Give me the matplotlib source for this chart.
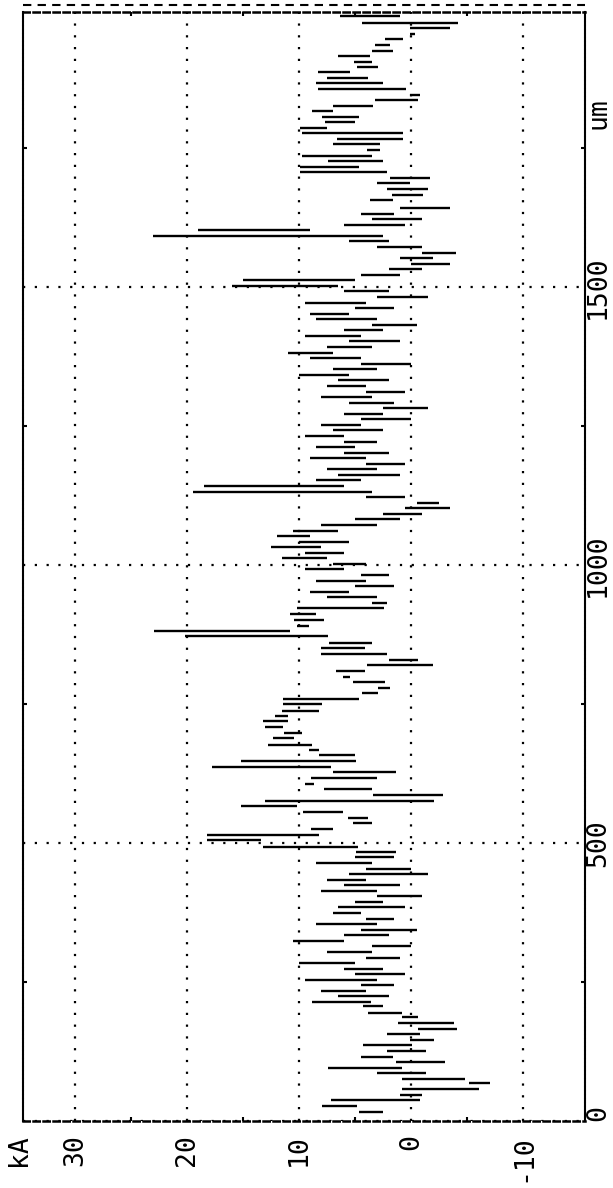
import numpy as np
import matplotlib
matplotlib.use("Agg")
import matplotlib.pyplot as plt
from matplotlib.transforms import blended_transform_factory
from matplotlib.lines import Line2D

W, H, DPI = 613, 1188, 100

# sample positions along the scan (um)
pos_um = [16, 27, 38, 47, 58, 68, 76, 86, 95, 106,
          115, 126, 137, 146, 156, 165, 176, 187, 194, 207,
          214, 224, 234, 244, 254, 264, 274, 284, 294, 304,
          314, 324, 334, 344, 354, 364, 374, 384, 394, 404,
          414, 424, 434, 444, 454, 464, 474, 484, 493, 505,
          514, 525, 536, 545, 556, 567, 576, 586, 597, 606,
          617, 628, 637, 647, 658, 667, 676, 689, 698, 709,
          719, 728, 737, 750, 759, 770, 779, 790, 799, 809,
          820, 829, 840, 851, 860, 872, 881, 890, 901, 912,
          923, 932, 942, 952, 962, 972, 982, 992, 1002, 1012,
          1022, 1032, 1042, 1052, 1062, 1072, 1082, 1092, 1102, 1112,
          1122, 1132, 1142, 1152, 1162, 1172, 1182, 1192, 1202, 1212,
          1222, 1232, 1242, 1252, 1262, 1272, 1282, 1292, 1302, 1312,
          1322, 1332, 1342, 1352, 1362, 1372, 1382, 1392, 1402, 1412,
          1422, 1432, 1442, 1452, 1462, 1472, 1482, 1492, 1502, 1512,
          1522, 1532, 1542, 1552, 1562, 1572, 1582, 1592, 1602, 1612,
          1622, 1632, 1642, 1656, 1665, 1676, 1687, 1696, 1707, 1716,
          1727, 1736, 1747, 1757, 1766, 1777, 1786, 1797, 1806, 1817,
          1826, 1836, 1845, 1856, 1867, 1876, 1887, 1896, 1905, 1916,
          1924, 1935, 1946, 1955, 1966, 1975, 1987]

# lower end of the current range at each position (kA)
lo_kA = [2.5, 4.8, -0.8, -1.0, -6.1, -7.1, -4.8, -1.3, 0.8, -3.0,
         1.6, -1.3, -0.1, -2.1, -0.8, -4.1, -3.8, -0.6, 0.8, 2.5,
         3.6, 2.0, 4.0, 1.5, 3.0, 0.5, 2.5, 5.0, 1.0, 3.5,
         0.0, 6.0, 2.0, -0.5, 3.0, 1.5, 4.5, 0.5, 2.5, -1.0,
         3.0, 1.0, 4.0, -1.5, 0.0, 3.5, 1.5, 1.3, 4.7, 13.4,
         8.2, 7.0, 3.5, 3.8, 6.1, 10.2, -2.1, -2.9, 3.5, 8.7,
         3.0, 1.3, 7.1, 4.9, 5.0, 8.2, 8.8, 10.4, 9.7, 11.4,
         11.0, 11.0, 8.2, 7.9, 4.6, 2.9, 1.9, 2.3, 5.4, 4.1,
         -2.0, -0.6, 2.1, 4.1, 3.5, 7.4, 10.8, 9.1, 7.8, 8.5,
         2.4, 2.1, 3.0, 5.5, 1.5, 4.0, 2.0, 6.0, 4.0, 7.5,
         6.0, 8.0, 5.5, 9.0, 6.5, 3.0, 1.0, -1.0, -3.5, -2.5,
         0.5, 3.5, 6.0, 4.5, 1.0, 3.0, 0.5, 4.0, 2.0, 5.0,
         3.0, 6.0, 2.5, 4.5, 0.0, 2.5, -1.5, 1.5, 3.5, 0.5,
         4.0, 2.0, 5.5, 3.0, 0.0, 4.5, 7.0, 3.5, 1.0, 4.5,
         2.5, -0.5, 3.0, 5.5, 1.5, 4.0, -1.5, 2.0, 6.5, 5.0,
         1.0, -1.0, -3.5, -2.0, -4.0, -1.0, 2.0, 2.5, 9.0, 0.5,
         -1.0, 1.5, -3.5, 1.6, -1.1, -1.5, 0.1, -1.7, 2.1, 4.6,
         2.5, 3.5, 2.8, 2.8, 0.7, 0.7, 7.5, 5.0, 4.6, 7.0,
         3.4, -0.6, -0.8, 0.4, 2.5, 3.8, 5.4, 2.9, 3.5, 3.7,
         1.6, 1.9, 0.7, -0.4, -3.5, -4.2, 1.0]

# upper end of the current range at each position (kA)
hi_kA = [4.6, 7.9, 7.1, 1.0, 0.8, -5.2, 0.8, 3.0, 7.4, 1.3,
         4.5, 2.1, 4.3, 0.1, 2.1, -0.6, 1.2, 0.8, 3.8, 4.3,
         8.8, 6.5, 8.0, 4.5, 9.5, 5.0, 6.0, 10.0, 4.0, 7.5,
         3.5, 10.5, 6.0, 4.5, 8.5, 4.0, 7.0, 6.5, 5.0, 3.0,
         8.0, 6.0, 7.5, 5.5, 4.0, 8.5, 5.0, 4.9, 13.2, 18.2,
         18.2, 8.9, 5.2, 5.6, 9.6, 15.2, 13.0, 3.4, 7.8, 9.5,
         8.9, 7.0, 17.8, 15.2, 8.2, 9.1, 12.8, 12.3, 11.3, 13.0,
         13.2, 12.1, 11.5, 11.4, 11.4, 4.4, 2.9, 5.2, 6.1, 6.7,
         3.9, 2.0, 8.0, 8.0, 7.3, 20.2, 22.9, 10.2, 10.4, 10.8,
         10.2, 3.5, 7.5, 9.0, 5.0, 8.5, 4.5, 9.5, 7.0, 11.5,
         9.5, 12.5, 10.0, 12.0, 10.5, 8.0, 5.0, 2.5, 0.5, -0.5,
         4.0, 19.5, 18.5, 8.5, 6.5, 7.5, 4.0, 9.0, 6.0, 8.5,
         6.0, 9.5, 7.0, 8.0, 4.5, 6.0, 2.5, 5.5, 8.0, 4.0,
         7.5, 6.5, 10.0, 7.0, 4.5, 9.0, 11.0, 7.5, 5.5, 9.5,
         6.0, 3.5, 8.5, 9.0, 5.0, 9.5, 3.0, 6.0, 16.0, 15.0,
         4.5, 2.0, 0.0, 1.0, -1.0, 3.0, 5.5, 23.0, 19.0, 6.0,
         3.5, 4.5, 1.0, 3.7, 1.7, 2.1, 3.0, 1.9, 9.9, 9.9,
         7.4, 9.7, 3.9, 7.0, 6.6, 9.7, 9.9, 7.7, 7.9, 8.8,
         7.0, 3.2, 0.1, 8.3, 8.5, 7.5, 8.3, 4.8, 5.1, 6.5,
         3.5, 3.2, 2.3, 0.1, 0.1, 4.4, 6.3]

um_ticks = [0, 500, 1000, 1500]
um_tick_labels = ["0", "500", "1000", "1500"]
um_unit_pos = 1812
um_unit = "um"
ka_ticks = [30, 20, 10, 0, -10]
ka_tick_labels = ["30", "20", "10", "0", "-10"]
ka_unit_pos = 35.0
ka_unit = "kA"
ka_minor = [25, 15, 5, -5]
um_minor = [250, 750, 1250, 1750]

fig = plt.figure(figsize=(W / DPI, H / DPI), dpi=DPI)
ax_l, ax_r, ax_t, ax_b = 23, 585, 12, 1121
ax = fig.add_axes([ax_l / W, 1 - ax_b / H, (ax_r - ax_l) / W, (ax_b - ax_t) / H])
ax.set_xlim(34.64, -15.54)
ax.set_ylim(0, (ax_b - ax_t) / 0.556)

ax.hlines(pos_um, lo_kA, hi_kA, color="black", lw=1.7)

ax.set_xticks(ka_ticks)
ax.set_yticks(um_ticks)
ax.set_xticks(ka_minor, minor=True)
ax.set_yticks(um_minor, minor=True)
ax.tick_params(which="major", length=0, labelbottom=False, labelleft=False)
ax.tick_params(which="minor", direction="in", length=3, width=1.5,
               top=True, bottom=True, left=True, right=True,
               labelbottom=False, labelleft=False)
ax.grid(True, which="major", color="black", linestyle=(0, (1, 4.3)), lw=1.6)

for s in ["left", "right"]:
    ax.spines[s].set_linestyle((0, (1, 0.9)))
    ax.spines[s].set_linewidth(1.5)
for s in ["top", "bottom"]:
    ax.spines[s].set_linestyle((0, (2.5, 1.5)))
    ax.spines[s].set_linewidth(1.8)

# extra dashed line above the top frame
fig.add_artist(Line2D([ax_l / W, ax_r / W], [1 - 5 / H, 1 - 5 / H],
                      transform=fig.transFigure, color="black", lw=1.5,
                      linestyle=(0, (4, 3))))

font = dict(family="DejaVu Sans Mono", size=19, color="black")

tr_ka = blended_transform_factory(ax.transData, fig.transFigure)
for v, lab in zip(ka_ticks, ka_tick_labels):
    ax.text(v, 1 - 1134 / H, lab, transform=tr_ka, rotation=90,
            ha="center", va="top", clip_on=False, **font)
ax.text(ka_unit_pos, 1 - 1134 / H, ka_unit, transform=tr_ka, rotation=90,
        ha="center", va="top", clip_on=False, **font)

tr_um = blended_transform_factory(fig.transFigure, ax.transData)
for v, lab in zip(um_ticks, um_tick_labels):
    ax.text(598 / W, v, lab, transform=tr_um, rotation=90,
            ha="center", va="bottom" if v == 0 else "center",
            clip_on=False, **font)
ax.text(598 / W, um_unit_pos, um_unit, transform=tr_um, rotation=90,
        ha="center", va="center", clip_on=False, **font)

fig.savefig("out.png", dpi=DPI)
